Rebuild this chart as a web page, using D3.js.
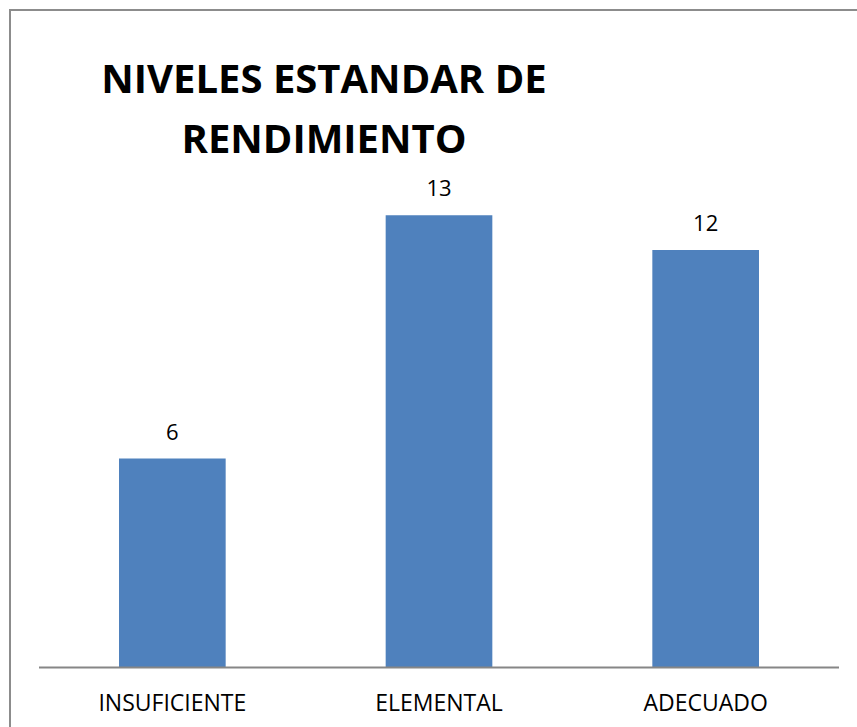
<!DOCTYPE html>
<html>
<head>
<meta charset="utf-8">
<script src="https://cdn.jsdelivr.net/npm/d3@7"></script>
<style>
  body { margin: 0; background: #fff; }
  text { font-family: "Open Sans", sans-serif; }
</style>
</head>
<body>
<script>
// chart data
let categories = ["INSUFICIENTE", "ELEMENTAL", "ADECUADO"];
let values = [6, 13, 12];
let titleLines = ["NIVELES ESTANDAR DE", "RENDIMIENTO"];

let fullSVGWidth = 857;
let fullSVGHeight = 727;

// plot area
let axisLeft = 39, axisRight = 839, axisY = 667;

let svg = d3.select("body")
    .append("svg")
    .attr("width", fullSVGWidth)
    .attr("height", fullSVGHeight);

// outer chart border (right and bottom edges fall outside the picture)
svg.append("rect")
    .attr("x", 10)
    .attr("y", 10)
    .attr("width", 880)
    .attr("height", 760)
    .style("fill", "none")
    .style("stroke", "#8c8c8c")
    .style("stroke-width", 2);

let x = d3.scaleBand()
    .domain(categories)
    .range([axisLeft, axisRight])
    .paddingInner(0.6)
    .paddingOuter(0.3);

let y = d3.scaleLinear()
    .domain([0, 14])
    .range([axisY, axisY - 14 * 34.75]);

let data = categories.map((c, i) => ({ cat: c, val: values[i] }));

svg.selectAll("rect.bar")
    .data(data)
    .enter()
    .append("rect")
    .attr("class", "bar")
    .attr("x", d => x(d.cat))
    .attr("y", d => y(d.val))
    .attr("width", x.bandwidth())
    .attr("height", d => y(0) - y(d.val))
    .style("fill", "#4f81bd");

// value labels
svg.selectAll("text.val")
    .data(data)
    .enter()
    .append("text")
    .attr("class", "val")
    .attr("x", d => x(d.cat) + x.bandwidth() / 2)
    .attr("y", d => y(d.val) - 19)
    .attr("text-anchor", "middle")
    .style("font-size", "22px")
    .style("fill", "#000")
    .text(d => d.val);

// baseline
svg.append("line")
    .attr("x1", axisLeft)
    .attr("x2", axisRight)
    .attr("y1", axisY + 0.5)
    .attr("y2", axisY + 0.5)
    .style("stroke", "#868686")
    .style("stroke-width", 2);

// category labels
svg.selectAll("text.cat")
    .data(categories)
    .enter()
    .append("text")
    .attr("class", "cat")
    .attr("x", d => x(d) + x.bandwidth() / 2)
    .attr("y", 711)
    .attr("text-anchor", "middle")
    .style("font-size", "23px")
    .style("fill", "#000")
    .text(d => d);

// title
svg.selectAll("text.title")
    .data(titleLines)
    .enter()
    .append("text")
    .attr("class", "title")
    .attr("x", 324)
    .attr("y", (d, i) => 93 + i * 60)
    .attr("text-anchor", "middle")
    .style("font-size", "40px")
    .style("font-weight", "bold")
    .style("fill", "#000")
    .text(d => d);
</script>
</body>
</html>
